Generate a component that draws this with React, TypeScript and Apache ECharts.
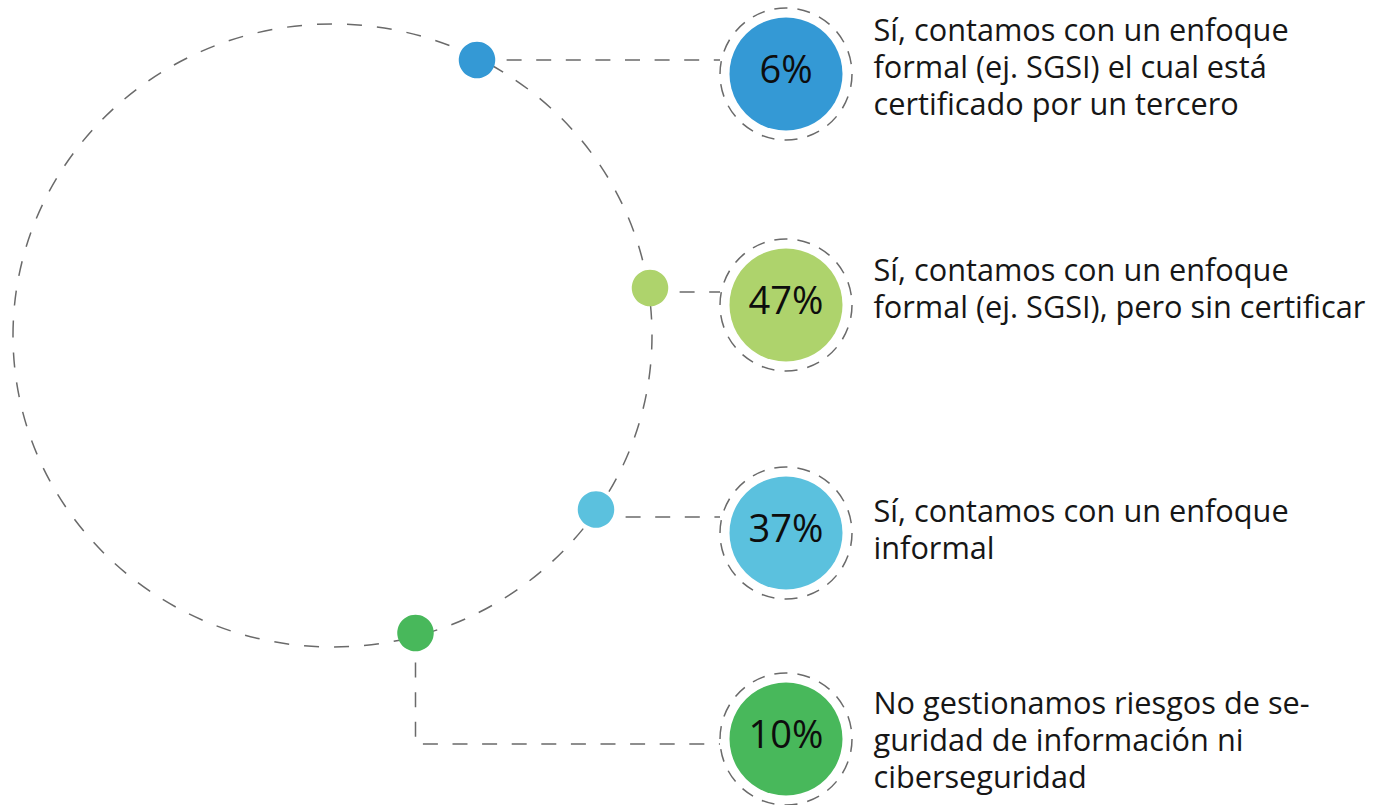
import React, { useEffect, useRef } from "react";
import * as echarts from "echarts";

// ---- data ----
const categories = [
  "Sí, contamos con un enfoque\nformal (ej. SGSI) el cual está\ncertificado por un tercero",
  "Sí, contamos con un enfoque\nformal (ej. SGSI), pero sin certificar",
  "Sí, contamos con un enfoque\ninformal",
  "No gestionamos riesgos de se-\nguridad de información ni\nciberseguridad",
];
const values = [6, 47, 37, 10];
const colors = ["#3499D5", "#AED36C", "#5BC1DE", "#48B85B"];

// ---- layout (pixel space of the hidden axes) ----
const bubbleX = 786;
const bubbleY = [74, 305, 533, 739];
const labelX = 873;
const labelY = [66, 287, 528, 739];
const dotXY: [number, number][] = [
  [477, 60],
  [650, 288],
  [596, 509.5],
  [415.5, 633],
];
const connectorPaths: [number, number][][] = [
  [[477, 60], [720, 60]],
  [[650, 292], [720, 292]],
  [[596, 517], [720, 517]],
  [[415.5, 633], [415.5, 744], [720, 744]],
];

const W = 1373;
const H = 805;
const DASH = "#6a6a6a";

export default function App() {
  const ref = useRef<HTMLDivElement>(null);
  useEffect(() => {
    if (!ref.current) return;
    const chart = echarts.init(ref.current, undefined, { renderer: "svg" });
    chart.setOption({
      animation: false,
      backgroundColor: "#ffffff",
      grid: { left: 0, top: 0, width: W, height: H },
      xAxis: { type: "value", min: 0, max: W, show: false },
      yAxis: { type: "value", min: 0, max: H, inverse: true, show: false },
      graphic: [
        {
          type: "ellipse",
          z: 0,
          shape: { cx: 332.5, cy: 335.5, rx: 319.5, ry: 311.5 },
          style: { fill: "none", stroke: DASH, lineWidth: 1.5, lineDash: [15, 15] },
          silent: true,
        },
      ],
      series: [
        {
          type: "lines",
          coordinateSystem: "cartesian2d",
          polyline: true,
          z: 1,
          silent: true,
          lineStyle: { color: DASH, width: 1.5, type: [15, 14.6], opacity: 1 },
          data: connectorPaths.map((coords) => ({ coords })),
        },
        {
          type: "scatter",
          z: 3,
          silent: true,
          symbol: "circle",
          symbolSize: 36.5,
          data: dotXY.map((p, i) => ({ value: p, itemStyle: { color: colors[i], opacity: 1 } })),
        },
        {
          type: "scatter",
          z: 2,
          silent: true,
          symbol: "circle",
          symbolSize: 132,
          itemStyle: {
            color: "rgba(0,0,0,0)",
            borderColor: DASH,
            borderWidth: 1.5,
            borderType: [13, 10],
            opacity: 1,
          },
          data: bubbleY.map((y) => [bubbleX, y]),
        },
        {
          type: "scatter",
          z: 3,
          silent: true,
          symbol: "circle",
          symbolSize: 113,
          data: values.map((v, i) => ({
            value: [bubbleX, bubbleY[i], v],
            itemStyle: { color: colors[i], opacity: 1 },
          })),
          label: {
            show: true,
            position: "inside",
            offset: [0, -6],
            formatter: (p: any) => `${p.value[2]}%`,
            fontFamily: "Open Sans",
            fontSize: 38,
            color: "#0d0d0d",
          },
        },
        {
          type: "scatter",
          z: 3,
          silent: true,
          symbolSize: 1,
          itemStyle: { color: "rgba(0,0,0,0)", opacity: 1 },
          data: categories.map((c, i) => ({ value: [labelX, labelY[i]], name: c })),
          label: {
            show: true,
            position: "right",
            distance: 0,
            align: "left",
            verticalAlign: "middle",
            formatter: (p: any) => p.name,
            fontFamily: "Open Sans",
            fontSize: 30.7,
            lineHeight: 37,
            color: "#161616",
          },
        },
      ],
    });
    return () => chart.dispose();
  }, []);
  return (
    <div
      ref={ref}
      style={{ position: "fixed", left: 0, top: 0, width: W, height: H, background: "#fff" }}
    />
  );
}
